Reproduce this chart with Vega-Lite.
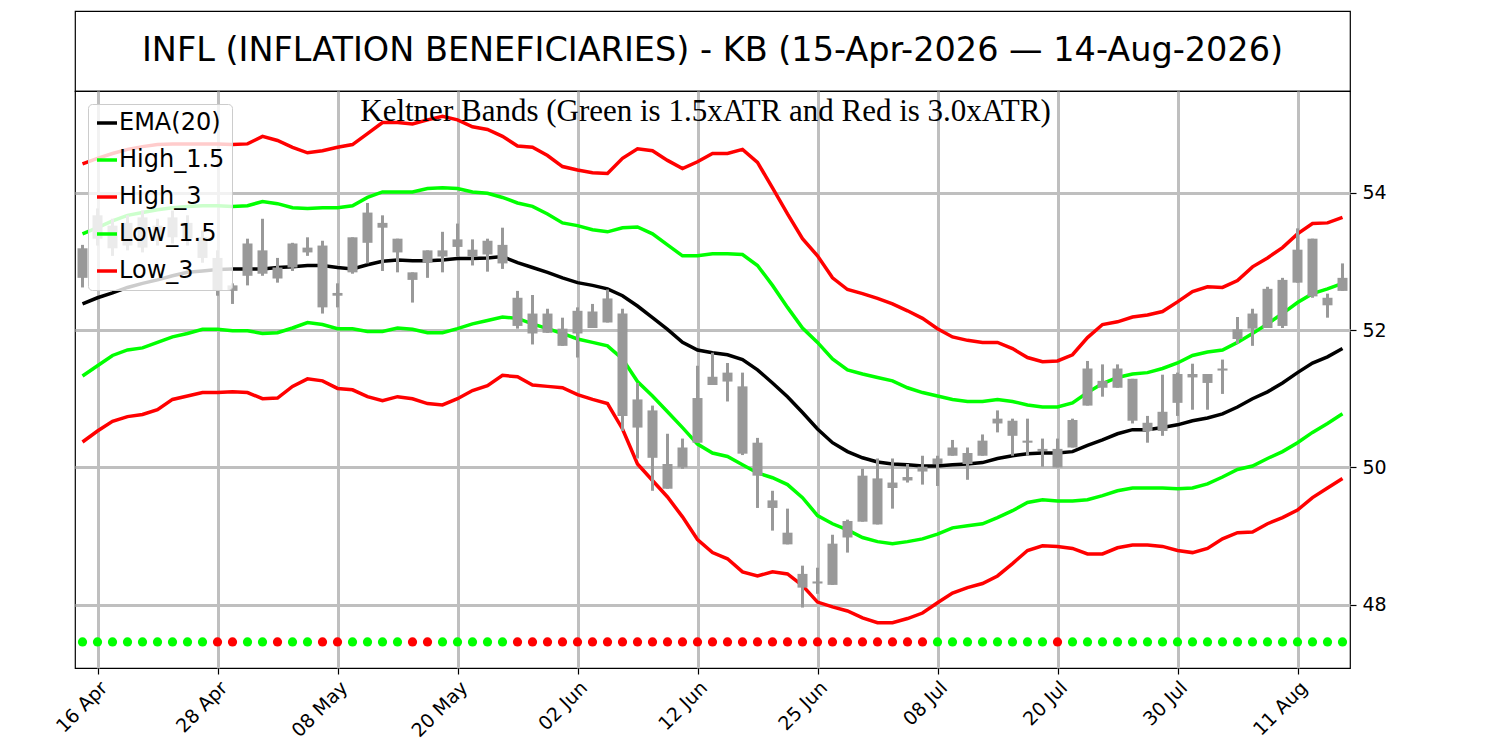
{
"$schema": "https://vega.github.io/schema/vega-lite/v6.json",
"background": "white",
"padding": {"left": 52, "top": 10, "right": 5, "bottom": 5},
"config": {
  "view": {"stroke": "black", "strokeWidth": 1.2},
  "font": "DejaVu Sans",
  "axis": {"labelFont": "DejaVu Sans", "labelFontSize": 19, "labelColor": "black", "tickColor": "black", "tickSize": 6, "tickWidth": 1.2, "domain": false, "gridColor": "#bfbfbf", "gridWidth": 3, "title": null}
},
"datasets": {"kb": [
{"date":"2026-04-15","o":52.76,"h":53.24,"l":52.62,"c":53.19,"ema":52.38,"h15":53.40,"h3":54.42,"l15":51.33,"l3":50.37,"sig":"green"},
{"date":"2026-04-16","o":53.33,"h":53.77,"l":53.23,"c":53.67,"ema":52.47,"h15":53.49,"h3":54.50,"l15":51.48,"l3":50.53,"sig":"green"},
{"date":"2026-04-17","o":53.52,"h":53.62,"l":53.08,"c":53.19,"ema":52.54,"h15":53.59,"h3":54.57,"l15":51.63,"l3":50.67,"sig":"green"},
{"date":"2026-04-20","o":53.23,"h":53.67,"l":53.16,"c":53.56,"ema":52.62,"h15":53.67,"h3":54.63,"l15":51.71,"l3":50.74,"sig":"green"},
{"date":"2026-04-21","o":53.64,"h":53.74,"l":53.13,"c":53.20,"ema":52.68,"h15":53.71,"h3":54.67,"l15":51.74,"l3":50.77,"sig":"green"},
{"date":"2026-04-22","o":53.30,"h":53.62,"l":53.23,"c":53.52,"ema":52.73,"h15":53.75,"h3":54.70,"l15":51.82,"l3":50.84,"sig":"green"},
{"date":"2026-04-23","o":53.35,"h":53.74,"l":53.26,"c":53.64,"ema":52.79,"h15":53.78,"h3":54.71,"l15":51.90,"l3":50.99,"sig":"green"},
{"date":"2026-04-24","o":53.56,"h":53.67,"l":53.23,"c":53.33,"ema":52.84,"h15":53.80,"h3":54.71,"l15":51.95,"l3":51.04,"sig":"green"},
{"date":"2026-04-27","o":53.35,"h":53.45,"l":52.98,"c":53.05,"ema":52.86,"h15":53.81,"h3":54.71,"l15":52.01,"l3":51.09,"sig":"green"},
{"date":"2026-04-28","o":53.05,"h":53.16,"l":52.50,"c":52.57,"ema":52.88,"h15":53.81,"h3":54.71,"l15":52.01,"l3":51.09,"sig":"red"},
{"date":"2026-04-29","o":52.57,"h":52.68,"l":52.38,"c":52.65,"ema":52.89,"h15":53.80,"h3":54.70,"l15":51.99,"l3":51.10,"sig":"red"},
{"date":"2026-04-30","o":52.79,"h":53.33,"l":52.65,"c":53.26,"ema":52.89,"h15":53.81,"h3":54.71,"l15":51.99,"l3":51.09,"sig":"green"},
{"date":"2026-05-01","o":53.16,"h":53.62,"l":52.79,"c":52.82,"ema":52.89,"h15":53.87,"h3":54.82,"l15":51.95,"l3":51.00,"sig":"green"},
{"date":"2026-05-04","o":52.91,"h":53.05,"l":52.69,"c":52.75,"ema":52.91,"h15":53.84,"h3":54.76,"l15":51.96,"l3":51.01,"sig":"red"},
{"date":"2026-05-05","o":52.91,"h":53.27,"l":52.86,"c":53.26,"ema":52.92,"h15":53.78,"h3":54.66,"l15":52.03,"l3":51.18,"sig":"green"},
{"date":"2026-05-06","o":53.20,"h":53.35,"l":53.08,"c":53.13,"ema":52.94,"h15":53.77,"h3":54.58,"l15":52.11,"l3":51.29,"sig":"green"},
{"date":"2026-05-07","o":53.23,"h":53.30,"l":52.24,"c":52.33,"ema":52.94,"h15":53.78,"h3":54.61,"l15":52.08,"l3":51.26,"sig":"red"},
{"date":"2026-05-08","o":52.50,"h":52.68,"l":52.33,"c":52.54,"ema":52.91,"h15":53.78,"h3":54.66,"l15":52.02,"l3":51.15,"sig":"red"},
{"date":"2026-05-11","o":52.84,"h":53.35,"l":52.82,"c":53.35,"ema":52.89,"h15":53.81,"h3":54.70,"l15":52.02,"l3":51.13,"sig":"green"},
{"date":"2026-05-12","o":53.27,"h":53.85,"l":52.97,"c":53.71,"ema":52.95,"h15":53.93,"h3":54.86,"l15":51.98,"l3":51.03,"sig":"green"},
{"date":"2026-05-13","o":53.56,"h":53.67,"l":52.86,"c":53.49,"ema":53.00,"h15":54.01,"h3":55.02,"l15":51.98,"l3":50.97,"sig":"green"},
{"date":"2026-05-14","o":53.33,"h":53.33,"l":52.84,"c":53.13,"ema":53.02,"h15":54.01,"h3":55.02,"l15":52.03,"l3":51.03,"sig":"green"},
{"date":"2026-05-15","o":52.84,"h":52.84,"l":52.40,"c":52.73,"ema":53.01,"h15":54.01,"h3":55.00,"l15":52.01,"l3":51.00,"sig":"red"},
{"date":"2026-05-18","o":52.98,"h":53.16,"l":52.76,"c":53.16,"ema":53.01,"h15":54.06,"h3":55.06,"l15":51.96,"l3":50.93,"sig":"red"},
{"date":"2026-05-19","o":53.07,"h":53.43,"l":52.84,"c":53.16,"ema":53.02,"h15":54.07,"h3":55.11,"l15":51.96,"l3":50.91,"sig":"green"},
{"date":"2026-05-20","o":53.21,"h":53.55,"l":53.07,"c":53.32,"ema":53.04,"h15":54.06,"h3":55.06,"l15":52.02,"l3":51.00,"sig":"green"},
{"date":"2026-05-21","o":53.17,"h":53.32,"l":52.94,"c":53.07,"ema":53.04,"h15":54.01,"h3":54.96,"l15":52.09,"l3":51.12,"sig":"green"},
{"date":"2026-05-22","o":53.10,"h":53.33,"l":52.85,"c":53.30,"ema":53.05,"h15":53.99,"h3":54.92,"l15":52.14,"l3":51.19,"sig":"green"},
{"date":"2026-05-26","o":53.24,"h":53.49,"l":52.89,"c":52.97,"ema":53.07,"h15":53.93,"h3":54.82,"l15":52.19,"l3":51.34,"sig":"green"},
{"date":"2026-05-27","o":52.47,"h":52.57,"l":52.02,"c":52.06,"ema":52.98,"h15":53.85,"h3":54.68,"l15":52.17,"l3":51.32,"sig":"red"},
{"date":"2026-05-28","o":51.95,"h":52.51,"l":51.79,"c":52.24,"ema":52.91,"h15":53.80,"h3":54.66,"l15":52.09,"l3":51.20,"sig":"red"},
{"date":"2026-05-29","o":52.24,"h":52.31,"l":51.96,"c":51.96,"ema":52.84,"h15":53.69,"h3":54.54,"l15":52.02,"l3":51.18,"sig":"red"},
{"date":"2026-06-01","o":52.02,"h":52.18,"l":51.77,"c":51.77,"ema":52.76,"h15":53.56,"h3":54.38,"l15":51.95,"l3":51.16,"sig":"red"},
{"date":"2026-06-02","o":51.95,"h":52.33,"l":51.60,"c":52.28,"ema":52.69,"h15":53.52,"h3":54.33,"l15":51.87,"l3":51.06,"sig":"red"},
{"date":"2026-06-03","o":52.03,"h":52.38,"l":52.03,"c":52.27,"ema":52.65,"h15":53.46,"h3":54.29,"l15":51.82,"l3":50.99,"sig":"red"},
{"date":"2026-06-04","o":52.11,"h":52.59,"l":52.11,"c":52.46,"ema":52.60,"h15":53.43,"h3":54.28,"l15":51.77,"l3":50.93,"sig":"red"},
{"date":"2026-06-05","o":52.24,"h":52.31,"l":50.53,"c":50.75,"ema":52.50,"h15":53.49,"h3":54.50,"l15":51.58,"l3":50.56,"sig":"red"},
{"date":"2026-06-08","o":50.99,"h":51.23,"l":50.13,"c":50.58,"ema":52.35,"h15":53.50,"h3":54.64,"l15":51.25,"l3":50.05,"sig":"red"},
{"date":"2026-06-09","o":50.83,"h":50.90,"l":49.66,"c":50.14,"ema":52.18,"h15":53.40,"h3":54.61,"l15":51.04,"l3":49.81,"sig":"red"},
{"date":"2026-06-10","o":50.05,"h":50.49,"l":49.69,"c":49.69,"ema":52.01,"h15":53.24,"h3":54.47,"l15":50.81,"l3":49.57,"sig":"red"},
{"date":"2026-06-11","o":50.00,"h":50.42,"l":49.98,"c":50.29,"ema":51.82,"h15":53.08,"h3":54.35,"l15":50.58,"l3":49.28,"sig":"red"},
{"date":"2026-06-12","o":50.36,"h":51.48,"l":50.36,"c":51.01,"ema":51.71,"h15":53.08,"h3":54.45,"l15":50.34,"l3":48.95,"sig":"red"},
{"date":"2026-06-15","o":51.20,"h":51.67,"l":51.20,"c":51.32,"ema":51.67,"h15":53.11,"h3":54.57,"l15":50.21,"l3":48.76,"sig":"red"},
{"date":"2026-06-16","o":51.38,"h":51.52,"l":50.96,"c":51.25,"ema":51.64,"h15":53.11,"h3":54.57,"l15":50.16,"l3":48.67,"sig":"red"},
{"date":"2026-06-17","o":51.18,"h":51.38,"l":50.18,"c":50.20,"ema":51.57,"h15":53.10,"h3":54.63,"l15":50.04,"l3":48.48,"sig":"red"},
{"date":"2026-06-18","o":50.36,"h":50.43,"l":49.41,"c":49.88,"ema":51.42,"h15":52.94,"h3":54.44,"l15":49.92,"l3":48.42,"sig":"red"},
{"date":"2026-06-22","o":49.52,"h":49.66,"l":49.08,"c":49.41,"ema":51.23,"h15":52.65,"h3":54.07,"l15":49.85,"l3":48.48,"sig":"red"},
{"date":"2026-06-23","o":49.05,"h":49.40,"l":48.88,"c":48.88,"ema":51.03,"h15":52.33,"h3":53.69,"l15":49.75,"l3":48.45,"sig":"red"},
{"date":"2026-06-24","o":48.25,"h":48.57,"l":47.96,"c":48.45,"ema":50.80,"h15":52.03,"h3":53.33,"l15":49.56,"l3":48.28,"sig":"red"},
{"date":"2026-06-25","o":48.34,"h":48.54,"l":48.16,"c":48.31,"ema":50.56,"h15":51.82,"h3":53.08,"l15":49.30,"l3":48.04,"sig":"red"},
{"date":"2026-06-26","o":48.29,"h":49.02,"l":48.29,"c":48.89,"ema":50.36,"h15":51.58,"h3":52.76,"l15":49.18,"l3":47.97,"sig":"red"},
{"date":"2026-06-29","o":48.98,"h":49.24,"l":48.76,"c":49.22,"ema":50.23,"h15":51.42,"h3":52.59,"l15":49.09,"l3":47.91,"sig":"red"},
{"date":"2026-06-30","o":49.21,"h":49.98,"l":49.21,"c":49.88,"ema":50.14,"h15":51.36,"h3":52.53,"l15":48.98,"l3":47.81,"sig":"red"},
{"date":"2026-07-01","o":49.84,"h":50.13,"l":49.17,"c":49.17,"ema":50.08,"h15":51.31,"h3":52.46,"l15":48.92,"l3":47.74,"sig":"red"},
{"date":"2026-07-02","o":49.70,"h":50.13,"l":49.40,"c":49.78,"ema":50.05,"h15":51.26,"h3":52.38,"l15":48.89,"l3":47.74,"sig":"red"},
{"date":"2026-07-06","o":49.81,"h":50.05,"l":49.78,"c":49.86,"ema":50.04,"h15":51.16,"h3":52.28,"l15":48.92,"l3":47.80,"sig":"red"},
{"date":"2026-07-07","o":49.94,"h":50.17,"l":49.75,"c":50.01,"ema":50.02,"h15":51.09,"h3":52.17,"l15":48.96,"l3":47.88,"sig":"red"},
{"date":"2026-07-08","o":50.05,"h":50.17,"l":49.73,"c":50.13,"ema":50.02,"h15":51.04,"h3":52.02,"l15":49.03,"l3":48.03,"sig":"green"},
{"date":"2026-07-09","o":50.17,"h":50.40,"l":50.17,"c":50.29,"ema":50.04,"h15":50.99,"h3":51.90,"l15":49.12,"l3":48.17,"sig":"green"},
{"date":"2026-07-10","o":50.21,"h":50.29,"l":49.82,"c":50.05,"ema":50.05,"h15":50.96,"h3":51.85,"l15":49.15,"l3":48.25,"sig":"green"},
{"date":"2026-07-13","o":50.17,"h":50.48,"l":50.17,"c":50.39,"ema":50.07,"h15":50.96,"h3":51.82,"l15":49.18,"l3":48.31,"sig":"green"},
{"date":"2026-07-14","o":50.64,"h":50.83,"l":50.51,"c":50.71,"ema":50.13,"h15":50.99,"h3":51.82,"l15":49.27,"l3":48.42,"sig":"green"},
{"date":"2026-07-15","o":50.68,"h":50.71,"l":50.17,"c":50.46,"ema":50.17,"h15":50.96,"h3":51.73,"l15":49.37,"l3":48.60,"sig":"green"},
{"date":"2026-07-16","o":50.39,"h":50.71,"l":50.17,"c":50.36,"ema":50.20,"h15":50.91,"h3":51.60,"l15":49.49,"l3":48.79,"sig":"green"},
{"date":"2026-07-17","o":50.27,"h":50.42,"l":50.01,"c":50.24,"ema":50.21,"h15":50.88,"h3":51.54,"l15":49.53,"l3":48.86,"sig":"green"},
{"date":"2026-07-20","o":50.27,"h":50.42,"l":50.00,"c":50.00,"ema":50.21,"h15":50.88,"h3":51.55,"l15":49.51,"l3":48.85,"sig":"red"},
{"date":"2026-07-21","o":50.29,"h":50.71,"l":50.29,"c":50.69,"ema":50.23,"h15":50.94,"h3":51.64,"l15":49.51,"l3":48.82,"sig":"green"},
{"date":"2026-07-22","o":50.90,"h":51.55,"l":50.90,"c":51.44,"ema":50.32,"h15":51.09,"h3":51.89,"l15":49.53,"l3":48.74,"sig":"green"},
{"date":"2026-07-23","o":51.26,"h":51.50,"l":51.03,"c":51.16,"ema":50.40,"h15":51.22,"h3":52.08,"l15":49.59,"l3":48.74,"sig":"green"},
{"date":"2026-07-24","o":51.16,"h":51.50,"l":51.16,"c":51.44,"ema":50.49,"h15":51.31,"h3":52.12,"l15":49.66,"l3":48.83,"sig":"green"},
{"date":"2026-07-27","o":51.29,"h":51.29,"l":50.64,"c":50.68,"ema":50.55,"h15":51.36,"h3":52.19,"l15":49.70,"l3":48.87,"sig":"green"},
{"date":"2026-07-28","o":50.53,"h":50.75,"l":50.36,"c":50.65,"ema":50.55,"h15":51.38,"h3":52.22,"l15":49.70,"l3":48.87,"sig":"green"},
{"date":"2026-07-29","o":50.53,"h":51.35,"l":50.46,"c":50.81,"ema":50.58,"h15":51.44,"h3":52.27,"l15":49.70,"l3":48.85,"sig":"green"},
{"date":"2026-07-30","o":50.94,"h":51.38,"l":50.75,"c":51.36,"ema":50.62,"h15":51.52,"h3":52.41,"l15":49.69,"l3":48.79,"sig":"green"},
{"date":"2026-07-31","o":51.31,"h":51.51,"l":50.84,"c":51.36,"ema":50.68,"h15":51.63,"h3":52.56,"l15":49.70,"l3":48.76,"sig":"green"},
{"date":"2026-08-03","o":51.36,"h":51.36,"l":50.84,"c":51.23,"ema":50.72,"h15":51.68,"h3":52.63,"l15":49.76,"l3":48.82,"sig":"green"},
{"date":"2026-08-04","o":51.41,"h":51.57,"l":51.07,"c":51.44,"ema":50.78,"h15":51.71,"h3":52.62,"l15":49.86,"l3":48.96,"sig":"green"},
{"date":"2026-08-05","o":51.87,"h":52.19,"l":51.80,"c":52.01,"ema":50.88,"h15":51.82,"h3":52.72,"l15":49.97,"l3":49.05,"sig":"green"},
{"date":"2026-08-06","o":52.02,"h":52.31,"l":51.77,"c":52.24,"ema":51.00,"h15":51.95,"h3":52.92,"l15":50.02,"l3":49.06,"sig":"green"},
{"date":"2026-08-07","o":52.03,"h":52.63,"l":52.03,"c":52.60,"ema":51.10,"h15":52.09,"h3":53.05,"l15":50.13,"l3":49.18,"sig":"green"},
{"date":"2026-08-10","o":52.06,"h":52.76,"l":52.03,"c":52.73,"ema":51.23,"h15":52.24,"h3":53.20,"l15":50.23,"l3":49.27,"sig":"green"},
{"date":"2026-08-11","o":52.69,"h":53.48,"l":52.69,"c":53.17,"ema":51.38,"h15":52.40,"h3":53.40,"l15":50.36,"l3":49.38,"sig":"green"},
{"date":"2026-08-12","o":53.33,"h":53.33,"l":52.47,"c":52.49,"ema":51.52,"h15":52.53,"h3":53.55,"l15":50.51,"l3":49.56,"sig":"green"},
{"date":"2026-08-13","o":52.47,"h":52.53,"l":52.18,"c":52.36,"ema":51.61,"h15":52.60,"h3":53.56,"l15":50.64,"l3":49.70,"sig":"green"},
{"date":"2026-08-14","o":52.57,"h":52.97,"l":52.57,"c":52.76,"ema":51.73,"h15":52.68,"h3":53.64,"l15":50.78,"l3":49.84,"sig":"green"}
]},
"spacing": 0,
"bounds": "flush",
"resolve": {"scale": {"color": "independent", "fill": "independent"}, "legend": {"color": "independent", "fill": "independent"}},
"vconcat": [
  {
    "width": 1275, "height": 80,
    "view": {"stroke": "black", "strokeWidth": 1.2, "fill": "white"},
    "data": {"values": [{"t": "INFL (INFLATION BENEFICIARIES) - KB (15-Apr-2026 — 14-Aug-2026)", "px": 0.5, "py": 0.5}]},
    "mark": {"type": "text", "font": "DejaVu Sans", "fontSize": 33.5, "color": "black", "baseline": "middle", "align": "center"},
    "encoding": {
      "x": {"field": "px", "type": "quantitative", "scale": {"domain": [0, 1]}, "axis": null},
      "y": {"field": "py", "type": "quantitative", "scale": {"domain": [0, 1]}, "axis": null},
      "text": {"field": "t", "type": "nominal"}
    }
  },
  {
    "width": 1275, "height": 577,
    "data": {"name": "kb"},
    "layer": [
      {
        "transform": [{"fold": ["ema", "h15", "h3", "l15", "l3"], "as": ["series", "value"]}],
        "mark": {"type": "line", "strokeWidth": 3.5},
        "encoding": {
          "x": {"field": "date", "type": "ordinal", "scale": {"type": "point", "padding": 0.5}, "axis": {"values": ["2026-04-16","2026-04-28","2026-05-08","2026-05-20","2026-06-02","2026-06-12","2026-06-25","2026-07-08","2026-07-20","2026-07-30","2026-08-11"], "labelExpr": "utcFormat(toDate(datum.value), '%d %b')", "labelAngle": -45, "labelAlign": "right", "labelBaseline": "top", "grid": true, "labelPadding": 4}},
          "y": {"field": "value", "type": "quantitative", "scale": {"domain": [47.08, 55.48], "nice": false, "zero": false}, "axis": {"orient": "right", "values": [48, 50, 52, 54], "format": ".0f", "grid": true, "labelPadding": 6}},
          "color": {"field": "series", "type": "nominal", "scale": {"domain": ["ema", "h15", "h3", "l15", "l3"], "range": ["#000000", "#00ff00", "#ff0000", "#00ff00", "#ff0000"]},
            "legend": {"title": null, "orient": "top-left", "offset": 13, "padding": 7, "zindex": 1, "fillColor": "rgba(255,255,255,0.8)", "strokeColor": "#cccccc", "cornerRadius": 4, "labelFont": "DejaVu Sans", "labelFontSize": 24, "labelColor": "black", "symbolType": "stroke", "symbolSize": 400, "symbolStrokeWidth": 3.5, "rowPadding": 13, "labelOffset": 0,
              "labelExpr": "datum.label == 'ema' ? 'EMA(20)' : datum.label == 'h15' ? 'High_1.5' : datum.label == 'h3' ? 'High_3' : datum.label == 'l15' ? 'Low_1.5' : 'Low_3'"}}
        }
      },
      {
        "mark": {"type": "rule", "color": "#999999", "strokeWidth": 3},
        "encoding": {
          "x": {"field": "date", "type": "ordinal", "scale": {"type": "point", "padding": 0.5}},
          "y": {"field": "l", "type": "quantitative", "scale": {"domain": [47.08, 55.48], "nice": false, "zero": false}},
          "y2": {"field": "h"}
        }
      },
      {
        "mark": {"type": "bar", "color": "#999999", "size": 10},
        "encoding": {
          "x": {"field": "date", "type": "ordinal", "scale": {"type": "point", "padding": 0.5}},
          "y": {"field": "o", "type": "quantitative", "scale": {"domain": [47.08, 55.48], "nice": false, "zero": false}},
          "y2": {"field": "c"}
        }
      },
      {
        "mark": {"type": "circle", "size": 85, "opacity": 1, "strokeWidth": 0},
        "encoding": {
          "x": {"field": "date", "type": "ordinal", "scale": {"type": "point", "padding": 0.5}},
          "y": {"datum": 47.46, "type": "quantitative", "scale": {"domain": [47.08, 55.48], "nice": false, "zero": false}},
          "fill": {"field": "sig", "type": "nominal", "scale": {"domain": ["green", "red"], "range": ["#00ff00", "#ff0000"]}, "legend": null}
        }
      },
      {
        "data": {"values": [{"t": "Keltner Bands (Green is 1.5xATR and Red is 3.0xATR)"}]},
        "mark": {"type": "text", "font": "Liberation Serif", "fontSize": 31, "color": "black", "baseline": "alphabetic", "align": "center", "dx": -7},
        "encoding": {
          "y": {"datum": 55.05, "type": "quantitative", "scale": {"domain": [47.08, 55.48], "nice": false, "zero": false}},
          "text": {"field": "t", "type": "nominal"}
        }
      }
    ]
  }
]
}
